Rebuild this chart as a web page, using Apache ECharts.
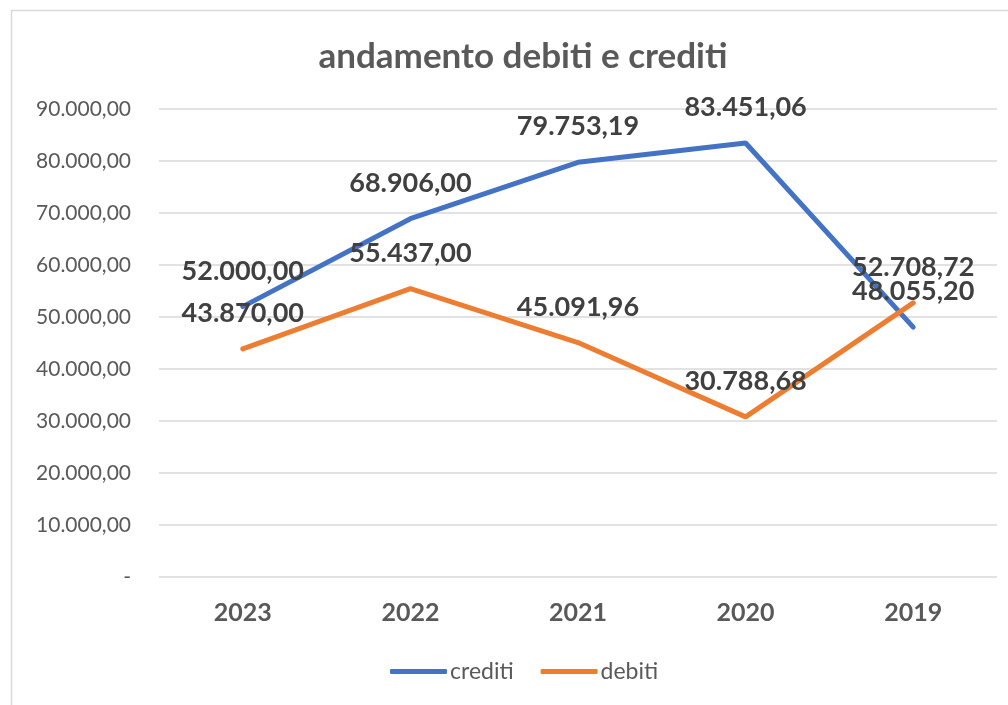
<!DOCTYPE html>
<html>
<head>
<meta charset="utf-8">
<script src="https://cdn.jsdelivr.net/npm/echarts@6/dist/echarts.min.js"></script>
<style>
html, body { margin: 0; padding: 0; background: #fff; }
#main { width: 1008px; height: 705px; }
</style>
</head>
<body>
<div id="main"></div>
<script>
var anni = ['2023', '2022', '2021', '2020', '2019'];
var crediti = [52000.00, 68906.00, 79753.19, 83451.06, 48055.20];
var debiti = [43870.00, 55437.00, 45091.96, 30788.68, 52708.72];
var yTicks = [0, 90000, 10000];

// formato italiano 1.234,56
function fmt(v) {
	if (v === 0) return '-';
	var p = v.toFixed(2).split('.');
	return p[0].replace(/\B(?=(\d{3})+(?!\d))/g, '.') + ',' + p[1];
}

var font = 'Lato, "Open Sans", sans-serif';
var myChart = echarts.init(document.getElementById('main'));
var option = {
	animation: false,
	textStyle: { fontFamily: font },
	graphic: [{
		type: 'rect',
		shape: { x: 11.5, y: 10.5, width: 1100, height: 800 },
		style: { fill: 'none', stroke: '#d9d9d9', lineWidth: 1.5 }
	}],
	title: {
		text: 'andamento debiti e crediti',
		left: 518,
		top: 34,
		textAlign: 'center',
		textStyle: { fontFamily: font, fontSize: 35, fontWeight: 'bold', color: '#595959' }
	},
	legend: {
		bottom: 17,
		left: 385,
		itemWidth: 57,
		itemHeight: 5,
		itemGap: 27,
		icon: 'roundRect',
		textStyle: { fontFamily: font, fontSize: 23, color: '#595959', padding: [0, 0, 0, -2] },
		data: ['crediti', 'debiti']
	},
	grid: { left: 159, right: 11, top: 109, bottom: 128 },
	xAxis: {
		type: 'category',
		data: anni,
		axisLine: { show: false },
		axisTick: { show: false },
		axisLabel: { margin: 23, fontFamily: font, fontSize: 25, fontWeight: 'bold', color: '#595959' }
	},
	yAxis: {
		type: 'value',
		min: yTicks[0],
		max: yTicks[1],
		interval: yTicks[2],
		axisLine: { show: false },
		axisTick: { show: false },
		axisLabel: { margin: 28, fontFamily: font, fontSize: 21, color: '#595959', formatter: fmt },
		splitLine: { lineStyle: { color: '#d9d9d9', width: 1.5 } }
	},
	series: [{
		name: 'crediti',
		type: 'line',
		data: crediti,
		symbol: 'circle',
		symbolSize: 0.1,
		color: '#4472C4',
		lineStyle: { width: 5, color: '#4472C4', cap: 'round' },
		label: {
			show: true, position: 'top', distance: 22,
			fontFamily: font, fontSize: 27, fontWeight: 'bold', color: '#404040',
			formatter: function(p) { return fmt(p.value); }
		}
	}, {
		name: 'debiti',
		type: 'line',
		data: debiti,
		symbol: 'circle',
		symbolSize: 0.1,
		color: '#ED7D31',
		lineStyle: { width: 5, color: '#ED7D31', cap: 'round' },
		label: {
			show: true, position: 'top', distance: 22,
			fontFamily: font, fontSize: 27, fontWeight: 'bold', color: '#404040',
			formatter: function(p) { return fmt(p.value); }
		}
	}]
};
myChart.setOption(option);
</script>
</body>
</html>
